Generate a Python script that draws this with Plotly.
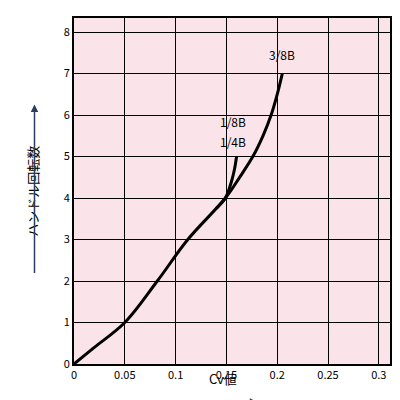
import plotly.graph_objects as go

x_38 = [0, 0.02, 0.05, 0.082, 0.112, 0.149, 0.163, 0.176, 0.186, 0.194, 0.200, 0.205]
y_38 = [0, 0.4, 1.0, 2.0, 3.0, 4.0, 4.5, 5.0, 5.5, 6.0, 6.5, 7.0]
x_18 = [0.140, 0.149, 0.155, 0.158, 0.160]
y_18 = [3.75, 4.0, 4.4, 4.7, 5.0]
labels = [("3/8B", 0.205, 7.2), ("1/8B", 0.156, 5.6), ("1/4B", 0.156, 5.1)]

fig = go.Figure()
for xs, ys in [(x_38, y_38), (x_18, y_18)]:
    fig.add_trace(go.Scatter(x=xs, y=ys, mode="lines", line=dict(color="black", width=3, shape="spline"), showlegend=False))
for t, x, y in labels:
    fig.add_annotation(x=x, y=y, text=t, showarrow=False, font=dict(size=12, color="black"), yanchor="bottom")

fig.update_xaxes(range=[0, 0.311], tickvals=[0, 0.05, 0.1, 0.15, 0.2, 0.25, 0.3],
                 ticktext=["0", "0.05", "0.1", "0.15", "0.2", "0.25", "0.3"],
                 showgrid=True, gridcolor="black", gridwidth=1, zeroline=False,
                 showline=True, linecolor="black", linewidth=2, mirror=True, tickfont=dict(size=11))
fig.update_yaxes(range=[0, 8.34], dtick=1, showgrid=True, gridcolor="black", gridwidth=1, zeroline=False,
                 showline=True, linecolor="black", linewidth=2, mirror=True, tickfont=dict(size=11))
fig.add_annotation(xref="paper", yref="paper", x=0.47, y=-0.075, text="Cv値", showarrow=False,
                   font=dict(size=13, color="black"))
fig.add_annotation(xref="paper", yref="paper", x=0.58, y=-0.11, ax=-70, ay=0,
                   text="", showarrow=True, arrowhead=2, arrowwidth=1.5)
fig.add_annotation(xref="paper", yref="paper", x=-0.17, y=0.5, text="ハンドル回転数", textangle=-90,
                   showarrow=False, font=dict(size=13, color="black"))
fig.add_annotation(xref="paper", yref="paper", x=-0.125, y=0.75, ax=0, ay=170,
                   text="", showarrow=True, arrowhead=2, arrowwidth=1.5)
fig.update_layout(width=400, height=400, margin=dict(l=66, r=18, t=8, b=44),
                  plot_bgcolor="#fbe3ea", paper_bgcolor="white",
                  font=dict(family="Noto Sans CJK JP", color="black"))
fig.write_html("out.html")
